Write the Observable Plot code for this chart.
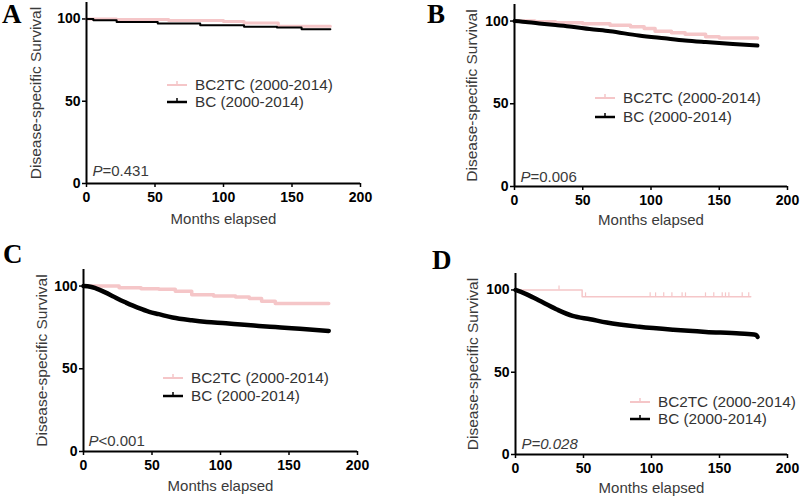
<!DOCTYPE html>
<html><head><meta charset="utf-8">
<script src="https://cdn.jsdelivr.net/npm/d3@7"></script>
<script src="https://cdn.jsdelivr.net/npm/@observablehq/plot@0.6"></script>
<style>
body{margin:0;background:#fff;}
#wrap{position:relative;width:800px;height:498px;overflow:hidden;font-family:Arial,"Liberation Sans",sans-serif;}
.panel{position:absolute;}
.letter{position:absolute;font-family:"Times New Roman","Liberation Serif",serif;font-weight:bold;font-size:27px;line-height:27px;color:#000;}
.leg{position:absolute;display:flex;align-items:center;height:18px;font-size:15.3px;line-height:18px;color:#333;white-space:nowrap;}
.leg svg{margin-right:8px;display:block;}
#wrap svg g[aria-label="x-axis tick"], #wrap svg g[aria-label="y-axis tick"]{stroke-width:1.5;}
</style></head><body><div id="wrap"></div>
<script>
// ---- shared axis / label data ----
const xTicks = [0, 50, 100, 150, 200];
const yTicks = [0, 50, 100];
const xDomain = [0, 200];
const yDomain = [0, 110];
const seriesLabels = ["BC2TC (2000-2014)", "BC (2000-2014)"];
const panelLetters = ["A", "B", "C", "D"];
const pTexts = ["=0.431", "=0.006", "<0.001", "=0.028"];
const xTitle = "Months elapsed";
const yTitle = "Disease-specific Survival";

// ---- Panel A ----
const monthsA_BC2TC = [0, 22, 60, 100, 115, 140, 178];
const survA_BC2TC   = [100, 99.6, 99, 98.4, 97.6, 95.6, 95.6];
const monthsA_BC    = [0, 5, 22, 52, 83, 115, 139, 157, 178];
const survA_BC      = [100, 99.2, 98.2, 97.2, 96.2, 95.2, 94.8, 93.8, 93.8];

// ---- Panel B ----
const monthsB_BC2TC = [0, 15, 30, 50, 70, 85, 95, 103, 115, 125, 140, 150, 178];
const survB_BC2TC   = [100, 99.5, 99, 98.4, 97.5, 96.6, 95.5, 93.8, 93, 92, 90.5, 89.8, 89.6];
const monthsB_BC    = [0, 10, 20, 30, 42, 55, 70, 91, 110, 125, 140, 160, 178];
const survB_BC      = [100, 99.3, 98.4, 97.6, 96.6, 95.2, 93.8, 91.3, 89.6, 88.3, 87.3, 86.1, 85.2];

// ---- Panel C ----
const monthsC_BC2TC = [0, 26, 42, 55, 67, 79, 95, 111, 121, 130, 140, 179];
const survC_BC2TC   = [100, 99, 98.4, 98, 96.8, 94.8, 94, 93.4, 92.4, 90.8, 89.4, 89.4];
const monthsC_BC    = [0, 5, 9, 15, 20, 25, 31, 40, 48, 55, 65, 79, 90, 104, 115, 128, 140, 152, 165, 179];
const survC_BC      = [100, 99.6, 98.6, 96.5, 94.5, 92.3, 90, 86.8, 84.4, 83, 81, 79.3, 78.3, 77.5, 76.7, 75.9, 75.2, 74.5, 73.7, 72.9];

// ---- Panel D ----
const monthsD_BC2TC = [0, 49, 173];
const survD_BC2TC   = [100, 95.8, 95.8];
const censorD_BC2TC = [32, 51.5, 99, 103, 109, 115, 122.5, 125, 139.7, 145.8, 152, 154.4, 156.9, 166.7, 171.5];
const monthsD_BC    = [0, 7, 17, 30, 42, 55, 67, 91, 116, 140, 165, 177, 178];
const survD_BC      = [100, 97.8, 93.7, 88.3, 84.2, 82.2, 80.2, 77.6, 75.8, 74.5, 73.5, 72.7, 71.5];

// ---- styling / layout (not data) ----
const PINK = "#f5c6c8";
const BLACK = "#000";
const layout = [
  {left:0,   top:0,   ml:86,  mr:40, mt:2,  mb:66, yDx:-50, xDy:36, pDx:6, pDy:-12,  legX:167, legY:[85,102], pinkW:3,   blackW:2,   blackCurve:"step-after", italicAll:false},
  {left:400, top:0,   ml:114, mr:13, mt:4,  mb:63, yDx:-42, xDy:34, pDx:6, pDy:-9.5, legX:595, legY:[98,117], pinkW:3.5, blackW:4,   blackCurve:"monotone-x", italicAll:false},
  {left:0,   top:249, ml:83,  mr:43, mt:20, mb:47, yDx:-41, xDy:35, pDx:5, pDy:-10,  legX:163, legY:[378,396], pinkW:3.5, blackW:4.5, blackCurve:"monotone-x", italicAll:false},
  {left:400, top:249, ml:115, mr:13, mt:24, mb:44, yDx:-42, xDy:34, pDx:6, pDy:-10,  legX:630, legY:[402,419], pinkW:1.5, blackW:4.5, blackCurve:"monotone-x", italicAll:true}
];
const letterPos = [[2,1],[427,1],[3,241],[432,247]];

const toRows = (ms, ss) => ms.map((m, i) => ({m, s: ss[i]}));
const stepAt = (ms, ss, t) => { let v = ss[0]; ms.forEach((m, i) => { if (m <= t) v = ss[i]; }); return v; };

const panels = [
  {pink: toRows(monthsA_BC2TC, survA_BC2TC), black: toRows(monthsA_BC, survA_BC), censor: []},
  {pink: toRows(monthsB_BC2TC, survB_BC2TC), black: toRows(monthsB_BC, survB_BC), censor: []},
  {pink: toRows(monthsC_BC2TC, survC_BC2TC), black: toRows(monthsC_BC, survC_BC), censor: []},
  {pink: toRows(monthsD_BC2TC, survD_BC2TC), black: toRows(monthsD_BC, survD_BC),
   censor: censorD_BC2TC.map(t => ({m: t, s: stepAt(monthsD_BC2TC, survD_BC2TC, t)}))}
];

const wrap = document.getElementById("wrap");
const TXT = {fontWeight: "normal", fill: "#3a3a3a", lineAnchor: "middle"};

panels.forEach((p, i) => {
  const L = layout[i];
  const marks = [
    Plot.line(p.pink, {x: "m", y: "s", curve: "step-after", stroke: PINK, strokeWidth: L.pinkW}),
    Plot.ruleX(p.censor, {x: "m", y1: "s", y2: "s", insetTop: -4, stroke: PINK, strokeWidth: 1.2}),
    Plot.line(p.black, {x: "m", y: "s", curve: L.blackCurve, stroke: BLACK, strokeWidth: L.blackW}),
    Plot.ruleY([0], {stroke: "#000", strokeWidth: 2}),
    Plot.ruleX([0], {stroke: "#000", strokeWidth: 2}),
    Plot.text([yTitle], {...TXT, frameAnchor: "left", textAnchor: "middle", rotate: -90, dx: L.yDx, fontSize: 15.5}),
    Plot.text([xTitle], {...TXT, frameAnchor: "bottom", textAnchor: "middle", dy: L.xDy, fontSize: 15})
  ];
  if (L.italicAll) {
    marks.push(Plot.text(["P" + pTexts[i]], {...TXT, frameAnchor: "bottom-left", textAnchor: "start", dx: L.pDx, dy: L.pDy, fontSize: 15, fontStyle: "italic"}));
  } else {
    marks.push(Plot.text(["P"], {...TXT, frameAnchor: "bottom-left", textAnchor: "start", dx: L.pDx, dy: L.pDy, fontSize: 15, fontStyle: "italic"}));
    marks.push(Plot.text([pTexts[i]], {...TXT, frameAnchor: "bottom-left", textAnchor: "start", dx: L.pDx + 10, dy: L.pDy, fontSize: 15}));
  }
  const chart = Plot.plot({
    width: 400, height: 249,
    marginLeft: L.ml, marginRight: L.mr, marginTop: L.mt, marginBottom: L.mb,
    style: {fontFamily: "Arial, 'Liberation Sans', sans-serif", fontSize: "14px", fontWeight: "bold", color: "#000", background: "transparent", overflow: "visible"},
    x: {domain: xDomain, ticks: xTicks, tickSize: 4, tickPadding: 5, label: null, tickFormat: d => d},
    y: {domain: yDomain, ticks: yTicks, tickSize: 4, tickPadding: 2, label: null, tickFormat: d => d},
    marks
  });
  const div = document.createElement("div");
  div.className = "panel";
  div.style.left = L.left + "px";
  div.style.top = L.top + "px";
  div.appendChild(chart);
  wrap.appendChild(div);

  // panel letter
  const let_ = document.createElement("div");
  let_.className = "letter";
  let_.style.left = letterPos[i][0] + "px";
  let_.style.top = letterPos[i][1] + "px";
  let_.textContent = panelLetters[i];
  wrap.appendChild(let_);

  // legend
  seriesLabels.forEach((lab, k) => {
    const row = document.createElement("div");
    row.className = "leg";
    row.style.left = L.legX + "px";
    row.style.top = (L.legY[k] - 9) + "px";
    const col = k === 0 ? PINK : BLACK;
    const w = k === 0 ? 2 : 2.5;
    row.innerHTML = `<svg width="20" height="18"><line x1="0" x2="20" y1="9" y2="9" stroke="${col}" stroke-width="${w}"/><line x1="10" x2="10" y1="9" y2="5" stroke="${col}" stroke-width="1.5"/></svg><span>${lab}</span>`;
    wrap.appendChild(row);
  });
});
</script>
</body></html>
